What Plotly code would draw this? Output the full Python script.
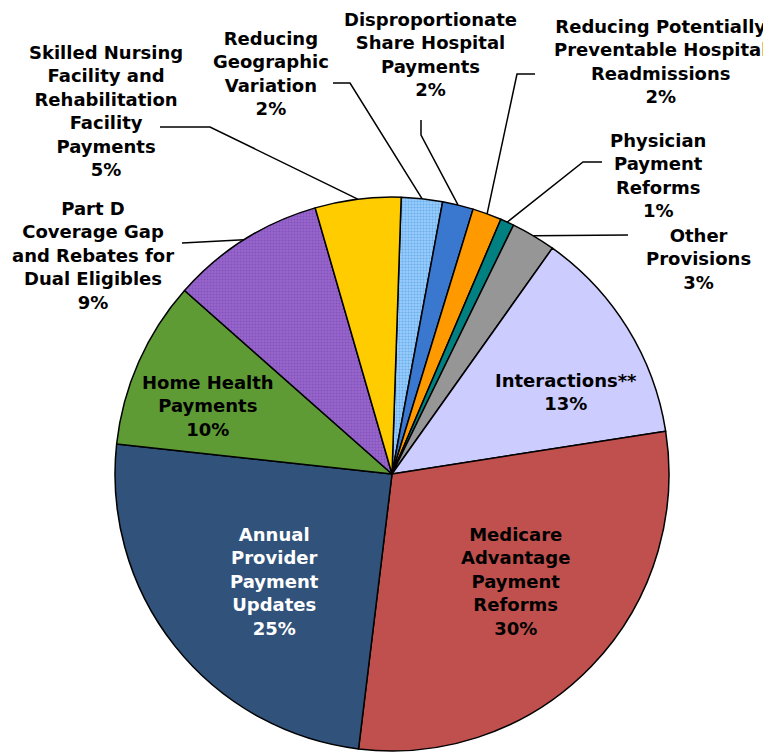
import math
import plotly.graph_objects as go

# ---- data ----
labels = [
    "Reducing Geographic Variation",
    "Disproportionate Share Hospital Payments",
    "Reducing Potentially Preventable Hospital Readmissions",
    "Physician Payment Reforms",
    "Other Provisions",
    "Interactions**",
    "Medicare Advantage Payment Reforms",
    "Annual Provider Payment Updates",
    "Home Health Payments",
    "Part D Coverage Gap and Rebates for Dual Eligibles",
    "Skilled Nursing Facility and Rehabilitation Facility Payments",
]
values = [2.4, 1.8, 1.7, 0.8, 2.6, 12.7, 29.4, 24.8, 9.8, 9.0, 5.0]
pct_text = ["2%", "2%", "2%", "1%", "3%", "13%", "30%", "25%", "10%", "9%", "5%"]
label_lines = [
    "Reducing<br>Geographic<br>Variation",
    "Disproportionate<br>Share Hospital<br>Payments",
    "Reducing Potentially<br>Preventable Hospital<br>Readmissions",
    "Physician<br>Payment<br>Reforms",
    "Other<br>Provisions",
    "Interactions**",
    "Medicare<br>Advantage<br>Payment<br>Reforms",
    "Annual<br>Provider<br>Payment<br>Updates",
    "Home Health<br>Payments",
    "Part D<br>Coverage Gap<br>and Rebates for<br>Dual Eligibles",
    "Skilled Nursing<br>Facility and<br>Rehabilitation<br>Facility<br>Payments",
]
colors = ["#99CCFF", "#3A78CF", "#FF9900", "#008080", "#969696", "#CCCCFF",
          "#C0504D", "#30527B", "#5E9B35", "#9966CC", "#FFCC00"]
pattern_shapes = [".", "", "", "", "", "", "", "", "", ".", ""]
pattern_fg = ["#6AAEE8", "#3A78CF", "#FF9900", "#008080", "#969696", "#CCCCFF",
              "#C0504D", "#30527B", "#5E9B35", "#8253BD", "#FFCC00"]

W, H = 771, 752
OFF = 8  # page body margin offset
CX, CY, R = 392, 474, 277
ROT = 1.9

def px(x):
    return (x - OFF) / W

def py(y):
    return 1 - (y - OFF) / H

fig = go.Figure()
fig.add_trace(go.Pie(
    labels=labels, values=values, sort=False, direction="clockwise",
    rotation=ROT, textinfo="none", hoverinfo="label+percent",
    showlegend=False,
    domain=dict(x=[px(CX - R), px(CX + R)], y=[py(CY + R), py(CY - R)]),
    marker=dict(colors=colors, line=dict(color="black", width=1.5),
                pattern=dict(shape=pattern_shapes, fgcolor=pattern_fg,
                             bgcolor=colors, size=3, solidity=0.4)),
))

# label placement (pixel centers) and leader elbows
label_pos = [
    (271, 73), (430, 54), (660, 61), (658, 176), (698, 259), (566, 392),
    (515, 581), (274, 581), (208, 406), (93, 255), (106, 111),
]
text_colors = ["black"] * 11
text_colors[7] = "white"
leaders = {
    0: [(333, 83), (350, 83)],
    1: [(421, 120), (421, 135)],
    2: [(535, 74), (517, 74)],
    3: [(602, 162), (583, 162)],
    4: [(628, 235)],
    9: [(182, 243)],
    10: [(160, 127), (210, 127)],
}

total = sum(values)
cum = 0.0
for i, v in enumerate(values):
    mid = ROT + (cum + v / 2) / total * 360
    cum += v
    ang = math.radians(mid)
    ex = CX + R * math.sin(ang)
    ey = CY - R * math.cos(ang)
    if i in leaders:
        pts = leaders[i] + [(ex, ey)]
        path = "M " + " L ".join(f"{px(a)},{py(b)}" for a, b in pts)
        fig.add_shape(type="path", xref="paper", yref="paper", path=path,
                      line=dict(color="black", width=1.5))
    lx, ly = label_pos[i]
    fig.add_annotation(
        x=px(lx), y=py(ly), xref="paper", yref="paper",
        text=f"{label_lines[i]}<br>{pct_text[i]}", showarrow=False,
        xanchor="center", yanchor="middle", align="center",
        font=dict(family="DejaVu Sans", size=18, color=text_colors[i],
                  weight="bold"),
    )

fig.update_layout(
    width=W, height=H, margin=dict(l=0, r=0, t=0, b=0),
    paper_bgcolor="white", plot_bgcolor="white",
)
fig.write_html("out.html")
